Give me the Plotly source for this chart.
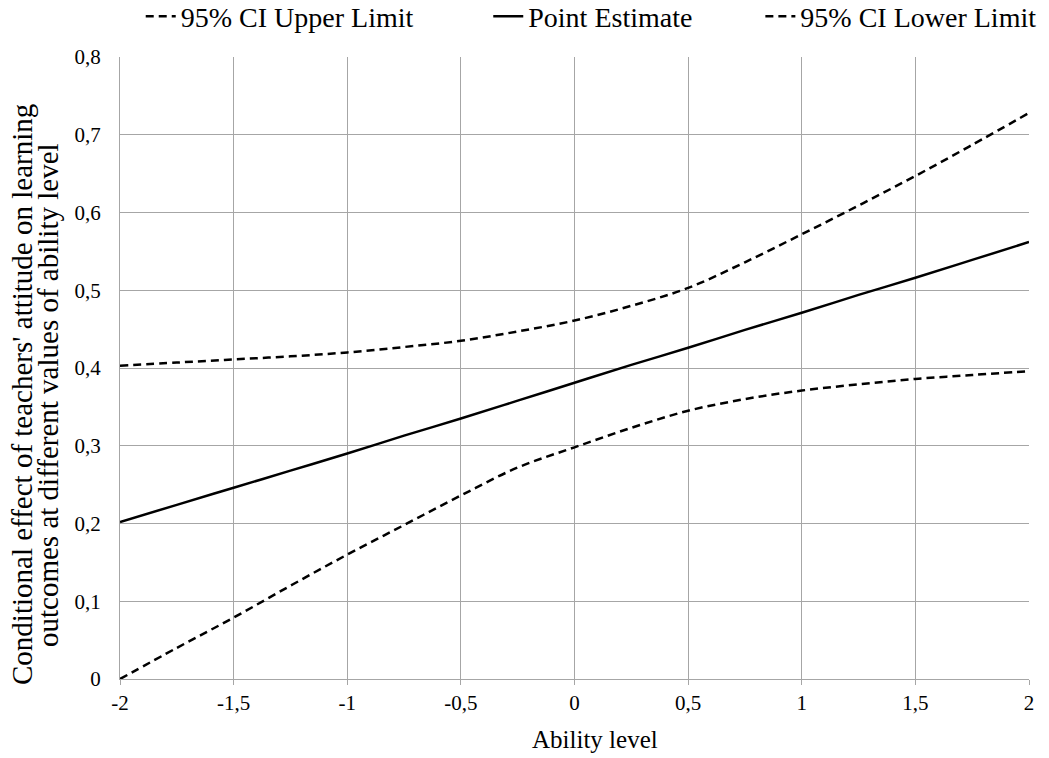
import plotly.graph_objects as go

ability = [-2, -1.75, -1.5, -1.25, -1, -0.75, -0.5, -0.25, 0, 0.25, 0.5, 0.75, 1, 1.25, 1.5, 1.75, 2]
upper = [0.403, 0.407, 0.411, 0.415, 0.420, 0.427, 0.435, 0.447, 0.461, 0.480, 0.503, 0.536, 0.572, 0.609, 0.647, 0.687, 0.728]
point = [0.202, 0.224, 0.246, 0.268, 0.290, 0.313, 0.335, 0.358, 0.381, 0.404, 0.426, 0.449, 0.471, 0.494, 0.516, 0.539, 0.562]
lower = [0.000, 0.040, 0.079, 0.120, 0.160, 0.198, 0.236, 0.272, 0.298, 0.323, 0.345, 0.360, 0.371, 0.379, 0.386, 0.391, 0.396]

x_ticks = [-2, -1.5, -1, -0.5, 0, 0.5, 1, 1.5, 2]
x_labels = ["-2", "-1,5", "-1", "-0,5", "0", "0,5", "1", "1,5", "2"]
y_ticks = [0, 0.1, 0.2, 0.3, 0.4, 0.5, 0.6, 0.7, 0.8]
y_labels = ["0", "0,1", "0,2", "0,3", "0,4", "0,5", "0,6", "0,7", "0,8"]

x_title = "Ability level"
y_title_lines = ["Conditional effect of teachers' attitude on learning",
                 "outcomes at different values of ability level"]

FONT = "Liberation Serif"
NB = "\u00a0"

fig = go.Figure()
fig.add_trace(go.Scatter(x=ability, y=upper, mode="lines", name="95% CI Upper Limit" + NB * 10,
                         line=dict(color="black", width=2.5, dash="8px,5px", shape="spline")))
fig.add_trace(go.Scatter(x=ability, y=point, mode="lines", name="Point Estimate" + NB * 9,
                         line=dict(color="black", width=2.5, shape="spline")))
fig.add_trace(go.Scatter(x=ability, y=lower, mode="lines", name="95% CI Lower Limit",
                         line=dict(color="black", width=2.5, dash="8px,5px", shape="spline")))

fig.update_layout(
    width=1049, height=758,
    margin=dict(l=120, r=20, t=57, b=79, autoexpand=False),
    paper_bgcolor="white", plot_bgcolor="white",
    font=dict(family=FONT, size=21, color="black"),
    showlegend=True,
    legend=dict(orientation="h", x=1.014, xanchor="right", y=1.065, yanchor="middle",
                font=dict(family=FONT, size=28, color="black"),
                tracegroupgap=0, bgcolor="rgba(0,0,0,0)"),
)
# y-axis title, two lines
for xp, txt in zip([-0.1078, -0.0792], y_title_lines):
    fig.add_annotation(text=txt, xref="paper", yref="paper", x=xp, y=0.4566,
                       xanchor="center", yanchor="middle", textangle=-90, showarrow=False,
                       font=dict(family=FONT, size=29, color="black"))

fig.update_xaxes(
    range=[-2, 2], tickvals=x_ticks, ticktext=x_labels,
    showgrid=True, gridcolor="#a6a6a6", gridwidth=1,
    showline=True, linecolor="#a6a6a6", linewidth=1, mirror=False,
    ticks="outside", ticklen=5, tickcolor="#a6a6a6",
    zeroline=False,
    tickfont=dict(family=FONT, size=21),
)
fig.add_annotation(text=x_title, xref="paper", yref="paper", x=0.5226, y=-0.0965,
                   xanchor="center", yanchor="middle", showarrow=False,
                   font=dict(family=FONT, size=25, color="black"))
fig.update_yaxes(
    range=[0, 0.8], tickvals=y_ticks, ticktext=y_labels,
    showgrid=True, gridcolor="#a6a6a6", gridwidth=1,
    showline=True, linecolor="#a6a6a6", linewidth=1,
    ticks="", ticklabelstandoff=14,
    zeroline=False,
    tickfont=dict(family=FONT, size=21),
)

fig.write_html("out.html", config={"displayModeBar": False},
               post_script="document.body.style.margin='0px';")
